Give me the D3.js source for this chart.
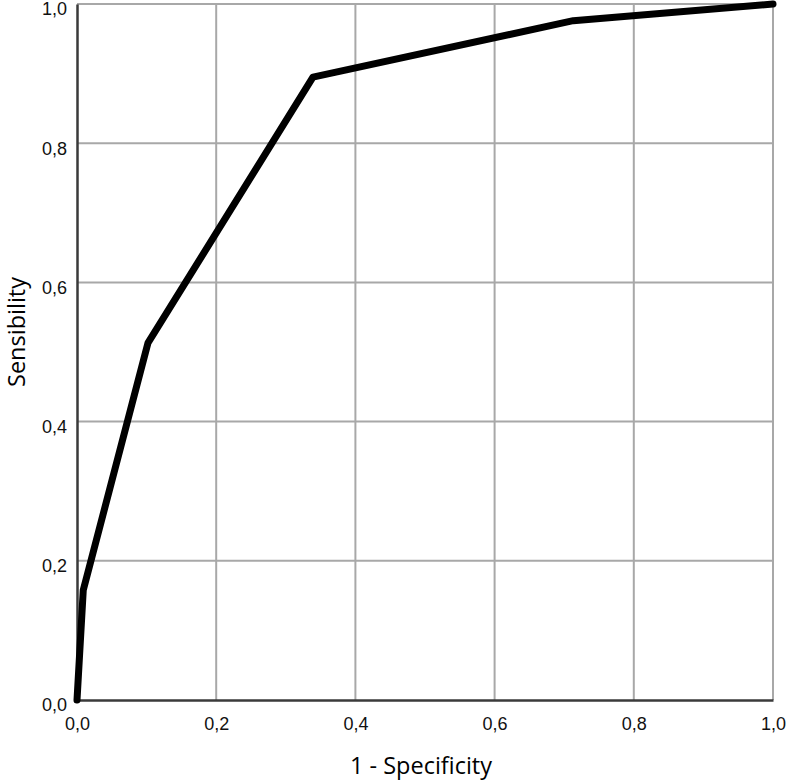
<!DOCTYPE html>
<html>
<head>
<meta charset="utf-8">
<script src="https://cdn.jsdelivr.net/npm/d3@7"></script>
<style>
  body { margin: 0; background: #fff; }
  svg { display: block; }
</style>
</head>
<body>
<div id="chart"></div>
<script>
// ROC curve points (1 - specificity, sensitivity)
const fpr = [0, 0.009, 0.102, 0.339, 0.713, 1.0];
const tpr = [0, 0.158, 0.513, 0.895, 0.976, 1.0];
const tickValues = [0, 0.2, 0.4, 0.6, 0.8, 1.0];
const xTitle = "1 - Specificity";
const yTitle = "Sensibility";

const W = 786, H = 781;
const margin = { top: 4, right: 13, bottom: 81, left: 77 };
const width = W - margin.left - margin.right;
const height = H - margin.top - margin.bottom;

const fmt = (d) => d3.format(".1f")(d).replace(".", ",");

const svg = d3
  .select("#chart")
  .append("svg")
  .attr("width", W)
  .attr("height", H);

const g = svg.append("g").attr("transform", `translate(${margin.left},${margin.top})`);

const x = d3.scaleLinear().domain([0, 1]).range([0, width]);
const y = d3.scaleLinear().domain([0, 1]).range([height, 0]);

// grid
g.append("g")
  .selectAll("line")
  .data(tickValues.slice(1))
  .enter()
  .append("line")
  .attr("x1", (d) => x(d))
  .attr("x2", (d) => x(d))
  .attr("y1", 0)
  .attr("y2", height)
  .attr("stroke", "#a8a8a8")
  .attr("stroke-width", 2);

g.append("g")
  .selectAll("line")
  .data(tickValues.slice(1))
  .enter()
  .append("line")
  .attr("x1", 0)
  .attr("x2", width)
  .attr("y1", (d) => y(d))
  .attr("y2", (d) => y(d))
  .attr("stroke", "#a8a8a8")
  .attr("stroke-width", 2);

// axes
const xAxis = g
  .append("g")
  .attr("transform", `translate(0,${height})`)
  .call(d3.axisBottom(x).tickValues(tickValues).tickFormat(fmt).tickSize(0).tickPadding(17));

const yAxis = g
  .append("g")
  .call(d3.axisLeft(y).tickValues(tickValues).tickFormat(fmt).tickSize(0).tickPadding(10));

[xAxis, yAxis].forEach((a) => {
  a.select(".domain").attr("stroke", "#3a3a3a").attr("stroke-width", 2.5);
  a.selectAll("text")
    .style("font-family", "Liberation Sans, Arial, sans-serif")
    .style("font-size", "18px")
    .attr("fill", "#111");
});
yAxis.selectAll("text").attr("dy", "0.6em");

// ROC line
const pts = fpr.map((d, i) => [d, tpr[i]]);
g.append("path")
  .datum(pts)
  .attr("fill", "none")
  .attr("stroke", "#000")
  .attr("stroke-width", 7)
  .attr("stroke-linejoin", "round")
  .attr("stroke-linecap", "round")
  .attr("d", d3.line().x((d) => x(d[0])).y((d) => y(d[1])));

// axis titles
svg.append("text")
  .attr("x", margin.left + width / 2 - 4)
  .attr("y", 774)
  .attr("text-anchor", "middle")
  .style("font-family", "Open Sans, sans-serif")
  .style("font-size", "23.5px")
  .attr("fill", "#000")
  .text(xTitle);

svg.append("text")
  .attr("transform", `translate(25,332) rotate(-90)`)
  .attr("text-anchor", "middle")
  .style("font-family", "Open Sans, sans-serif")
  .style("font-size", "23.5px")
  .attr("fill", "#000")
  .text(yTitle);
</script>
</body>
</html>
